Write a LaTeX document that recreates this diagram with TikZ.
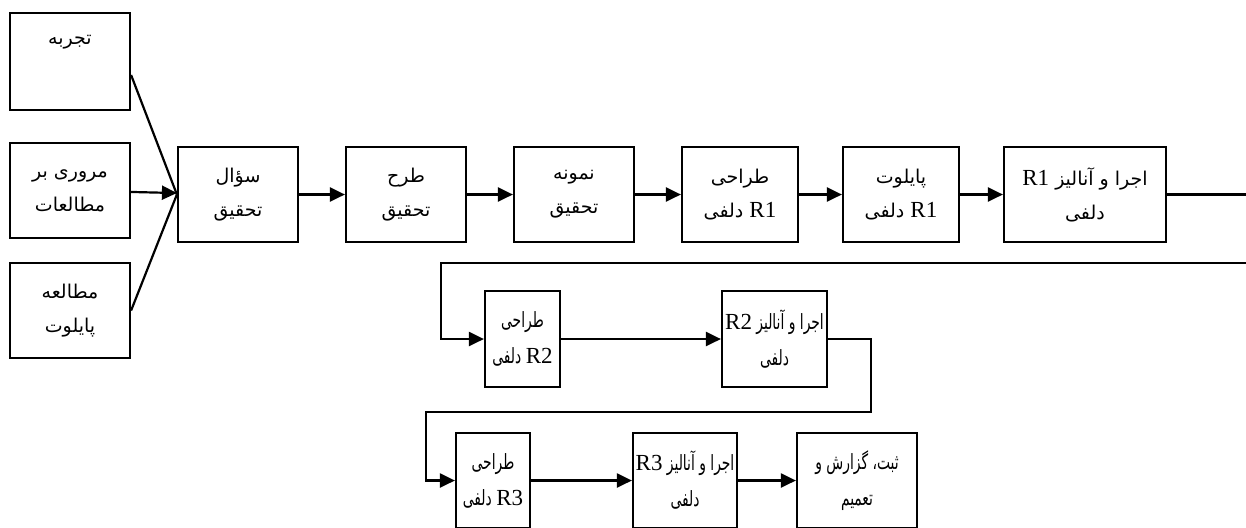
\documentclass[tikz,border=0pt]{standalone}
\usepackage{fontspec}
\setmainfont{Liberation Serif}
\newfontfamily\arabicfont[Script=Arabic]{DejaVu Sans}
\newfontfamily\arabicnarrow[Script=Arabic,FakeStretch=0.66]{DejaVu Sans}
\TeXXeTstate=1
\usetikzlibrary{positioning,arrows.meta}
\newcommand{\rsize}{11.5}
\newcommand{\fa}[1]{{\arabicfont\beginR #1\endR}}
\newcommand{\fn}[1]{{\arabicnarrow\beginR #1\endR}}
\newcommand{\rn}[1]{{\normalfont\fontsize{\rsize}{17}\selectfont\beginL #1\endL}}

\begin{document}
\begin{tikzpicture}[
x=0.5pt,
y=-0.5pt,
box/.style={
  draw,
  line width=1.1pt,
  minimum height=47.5pt,
  inner sep=0pt,
  align=center,
  font=\fontsize{9.5}{17}\selectfont
  },
narrow/.style={
  font=\fontsize{10.5}{18}\selectfont
  },
link/.style={
  line width=1.1pt
  },
>={Triangle[length=7.5pt,width=7pt]}
]
\useasboundingbox (0,0) rectangle (1246,527);

% inputs
\node[box,minimum width=60pt,minimum height=48.5pt] (exp) at (70,61.5) {\fa{تجربه}\\\strut};
\node[box,minimum width=60pt] (rev) at (70,190.5) {\fa{مروری بر}\\\fa{مطالعات}};
\node[box,minimum width=60pt] (pil) at (70,310.5) {\fa{مطالعه}\\\fa{پایلوت}};

% first row
\node[box,minimum width=60pt] (q) at (238,194.5) {\fa{سؤال}\\\fa{تحقیق}};
\node[box,minimum width=60pt] (des) at (406,194.5) {\fa{طرح}\\\fa{تحقیق}};
\node[box,minimum width=60pt] (smp) at (574,194.5) {\fa{نمونه}\\\fa{تحقیق}};
\node[box,minimum width=58pt] (d1) at (740,194.5) {\fa{طراحی}\\\fa{\rn{R1} دلفی}};
\node[box,minimum width=58pt] (p1) at (901,194.5) {\fa{پایلوت}\\\fa{\rn{R1} دلفی}};
\node[box,minimum width=81pt] (e1) at (1085,194.5) {\fa{اجرا و آنالیز \rn{R1}}\\\fa{دلفی}};

% second row
\node[box,narrow,minimum width=37.5pt,minimum height=48pt] (d2) at (522.5,339) {\fn{طراحی}\\\fn{\rn{R2} دلفی}};
\node[box,narrow,minimum width=52.5pt,minimum height=48pt] (e2) at (774.5,339) {\fn{اجرا و آنالیز \rn{R2}}\\\fn{دلفی}};

% third row
\node[box,narrow,minimum width=37pt] (d3) at (493,480.5) {\fn{طراحی}\\\fn{\rn{R3} دلفی}};
\node[box,narrow,minimum width=52pt] (e3) at (685,480.5) {\fn{اجرا و آنالیز \rn{R3}}\\\fn{دلفی}};
\node[box,narrow,minimum width=60pt] (rep) at (857,480.5) {\fn{ثبت، گزارش و}\\\fn{تعمیم}};

\coordinate (outA) at (1246,191);
\coordinate (outB) at (1246,263);
\coordinate (turnA) at (441,263);
\coordinate (turnB) at (871,412);
\coordinate (turnC) at (426,412);

% input lines
\draw[link] ([yshift=-6.75pt]exp.east) -- (q.west);
\draw[link,->] (rev) -- (q);
\draw[link] (pil.east) -- (q.west);

% first row lines
\foreach \a/\b in {q/des,des/smp,smp/d1,d1/p1,p1/e1}
  \draw[link,->] (\a) -- (\b);
\draw[link] (e1.east) -- (e1.east -| outA);

% wrap lines
\draw[link,->] (outB) -- (turnA) |- (d2);
\draw[link,->] (d2) -- (e2);
\draw[link,->] (e2) -| (turnB) -- (turnC) |- (d3);
\draw[link,->] (d3) -- (e3);
\draw[link,->] (e3) -- (rep);
\end{tikzpicture}
\end{document}
